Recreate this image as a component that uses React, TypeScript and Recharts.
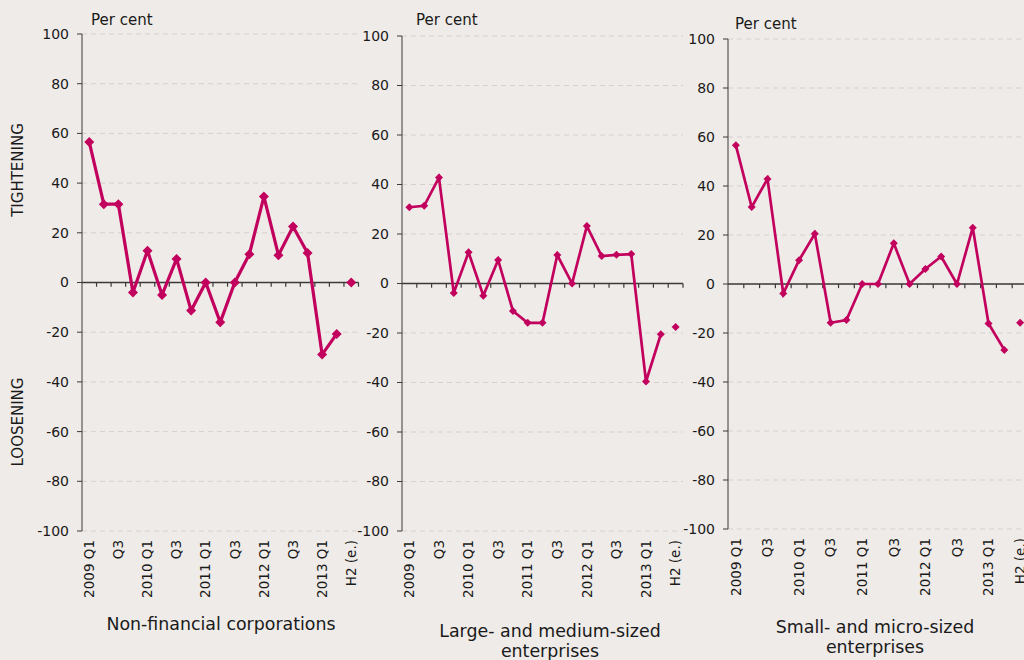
import { CartesianGrid, Line, LineChart, ReferenceLine, XAxis, YAxis } from 'recharts';

// quarterly survey periods, last one is the H2 estimate
const PERIODS = [
  '2009 Q1', 'Q2', 'Q3', 'Q4',
  '2010 Q1', 'Q2', 'Q3', 'Q4',
  '2011 Q1', 'Q2', 'Q3', 'Q4',
  '2012 Q1', 'Q2', 'Q3', 'Q4',
  '2013 Q1', 'Q2', 'H2 (e.)',
];

// net percentage of banks tightening credit standards
const NFC = [56.5, 31.5, 31.5, -4, 12.8, -5, 9.5, -11.3, 0, -16, 0, 11.4, 34.6, 11, 22.5, 11.9, -29, -20.7];
const NFC_EST = 0;
const LARGE = [30.8, 31.4, 42.8, -3.8, 12.6, -4.9, 9.5, -11.1, -15.9, -15.9, 11.5, 0, 23.2, 11.1, 11.6, 11.9, -39.6, -20.5];
const LARGE_EST = -17.6;
const SMALL = [56.6, 31.4, 42.9, -3.9, 9.7, 20.5, -15.8, -14.7, 0, 0, 16.6, 0, 6.1, 11.2, 0, 23, -16.1, -26.9];
const SMALL_EST = -15.8;

const Y_TICKS = [-100, -80, -60, -40, -20, 0, 20, 40, 60, 80, 100];

const COLOR = '#c2005d';
const AXIS = '#3a3a3a';
const TEXT = '#1a1a1a';
const FONT = '"DejaVu Sans", sans-serif';

const PANELS = [
  { title: ['Non-financial corporations'], values: NFC, est: NFC_EST, left: 82, top: 34, bottom: 531, width: 276.5, titleX: 221, titleY: 614, perX: 91, perY: 10, r: 5, sw: 3.2 },
  { title: ['Large- and medium-sized', 'enterprises'], values: LARGE, est: LARGE_EST, left: 402, top: 36, bottom: 531, width: 281, titleX: 550, titleY: 621, perX: 416, perY: 10, r: 4, sw: 2.7 },
  { title: ['Small- and micro-sized', 'enterprises'], values: SMALL, est: SMALL_EST, left: 728, top: 39, bottom: 529, width: 300, titleX: 875, titleY: 617, perX: 735, perY: 14, r: 4, sw: 2.7 },
];

const rowsFor = (values: number[], est: number) =>
  PERIODS.map((p, i) => ({
    x: i + 0.5,
    label: p,
    v: i < values.length ? values[i] : null,
    e: i === PERIODS.length - 1 ? est : null,
  }));

const labelTicks = PERIODS.map((_, i) => i + 0.5).filter((_, i) => i % 2 === 0);
const boundaries = PERIODS.map((_, i) => i + 1);

const diamond = (r: number) => (props: any) => {
  const { cx, cy, index } = props;
  if (cx == null || cy == null) return <g key={index} />;
  return <path key={index} d={`M${cx},${cy - r}L${cx + r},${cy}L${cx},${cy + r}L${cx - r},${cy}Z`} fill={COLOR} />;
};

function XTick({ x, y, payload }: any) {
  const label = PERIODS[Math.floor(payload.value)];
  return (
    <text x={x} y={y} dy="0.35em" transform={`rotate(-90 ${x} ${y})`} textAnchor="end" fill={TEXT} fontSize={13.5} fontFamily={FONT}>
      {label}
    </text>
  );
}

function Panel({ p }: { p: (typeof PANELS)[number] }) {
  const rows = rowsFor(p.values, p.est);
  const yw = 60;
  return (
    <div style={{ position: 'absolute', left: p.left - yw, top: 0 }}>
      <LineChart
        width={yw + p.width + 10}
        height={660}
        data={rows}
        margin={{ top: p.top, right: 10, left: 0, bottom: 660 - p.bottom - 70 }}
      >
        <CartesianGrid vertical={false} stroke="#d5d1ce" strokeDasharray="5 4" />
        <XAxis
          dataKey="x"
          type="number"
          domain={[0, PERIODS.length]}
          ticks={labelTicks}
          interval={0}
          axisLine={false}
          tickLine={false}
          tickSize={0}
          tickMargin={9}
          height={70}
          tick={<XTick />}
        />
        <YAxis
          domain={[-100, 100]}
          ticks={Y_TICKS}
          interval={0}
          width={yw}
          stroke={AXIS}
          tickSize={5}
          tickMargin={8}
          tick={{ fill: TEXT, fontSize: 14, fontFamily: FONT }}
        />
        <ReferenceLine y={0} stroke={AXIS} strokeWidth={1.3} />
        {boundaries.map((b) => (
          <ReferenceLine key={b} segment={[{ x: b, y: 0 }, { x: b, y: -1.7 }]} stroke={AXIS} strokeWidth={1.2} />
        ))}
        <Line dataKey="v" stroke={COLOR} strokeWidth={p.sw} dot={diamond(p.r)} activeDot={false} isAnimationActive={false} />
        <Line dataKey="e" stroke="none" dot={diamond(p.r)} activeDot={false} isAnimationActive={false} />
      </LineChart>
    </div>
  );
}

export default function App() {
  return (
    <div
      style={{
        position: 'absolute',
        left: 0,
        top: 0,
        width: 1024,
        height: 660,
        overflow: 'hidden',
        background: '#efebe8',
        fontFamily: FONT,
        color: TEXT,
      }}
    >
      {PANELS.map((p, i) => (
        <Panel key={i} p={p} />
      ))}
      {PANELS.map((p, i) => (
        <div key={'per' + i} style={{ position: 'absolute', left: p.perX, top: p.perY, fontSize: 15, lineHeight: '20px' }}>
          Per cent
        </div>
      ))}
      {PANELS.map((p, i) => (
        <div
          key={'t' + i}
          style={{ position: 'absolute', left: p.titleX - 170, top: p.titleY, width: 340, textAlign: 'center', fontSize: 17.4, lineHeight: '20px' }}
        >
          {p.title.map((t) => (
            <div key={t}>{t}</div>
          ))}
        </div>
      ))}
      <div style={{ position: 'absolute', left: 18, top: 170, transform: 'translate(-50%, -50%) rotate(-90deg)', fontSize: 15, whiteSpace: 'nowrap' }}>
        TIGHTENING
      </div>
      <div style={{ position: 'absolute', left: 18, top: 422, transform: 'translate(-50%, -50%) rotate(-90deg)', fontSize: 15, whiteSpace: 'nowrap' }}>
        LOOSENING
      </div>
    </div>
  );
}
